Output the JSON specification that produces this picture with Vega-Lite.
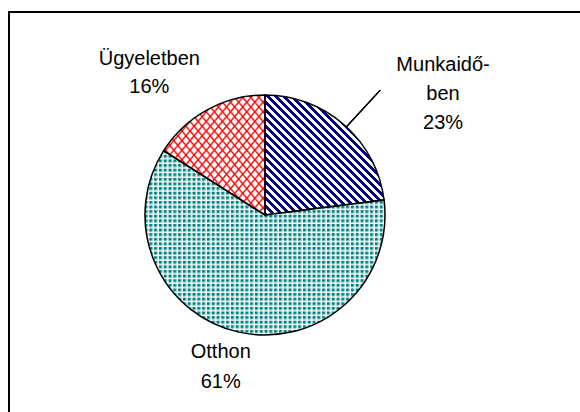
{
 "$schema": "https://vega.github.io/schema/vega-lite/v6.json",
 "usermeta": {"embedOptions": {"actions": false}},
 "width": 571,
 "height": 400,
 "autosize": {"type": "none"},
 "padding": {"left": 9, "top": 12, "right": 0, "bottom": 0},
 "background": "white",
 "config": {"view": {"stroke": null}},
 "data": {"values": [
  {"cat": "Munkaidőben", "value": 23, "label": "Munkaidő-\nben\n23%"},
  {"cat": "Otthon", "value": 61, "label": "Otthon\n61%"},
  {"cat": "Ügyeletben", "value": 16, "label": "Ügyeletben\n16%"}
 ]},
 "layer": [
  {
   "mark": {"type": "rect", "x": 0, "y": 0, "x2": 640, "y2": 460, "fill": "transparent", "stroke": "black", "strokeWidth": 2},
   "encoding": {}
  },
  {
   "mark": {"type": "arc", "x": 256, "y": 203, "radius": 120},
   "encoding": {
    "theta": {"field": "value", "type": "quantitative", "stack": true},
    "fill": {
     "condition": [
      {"test": "datum.cat === 'Munkaidőben'", "value": {"gradient": "linear", "x1": 0, "y1": 1, "x2": 1, "y2": 0, "stops": [
{"offset":0,"color":"navy"},{"offset":0.016667,"color":"navy"},{"offset":0.016667,"color":"#fff"},{"offset":0.033333,"color":"#fff"},
{"offset":0.033333,"color":"navy"},{"offset":0.05,"color":"navy"},{"offset":0.05,"color":"#fff"},{"offset":0.066667,"color":"#fff"},
{"offset":0.066667,"color":"navy"},{"offset":0.083333,"color":"navy"},{"offset":0.083333,"color":"#fff"},{"offset":0.1,"color":"#fff"},
{"offset":0.1,"color":"navy"},{"offset":0.116667,"color":"navy"},{"offset":0.116667,"color":"#fff"},{"offset":0.133333,"color":"#fff"},
{"offset":0.133333,"color":"navy"},{"offset":0.15,"color":"navy"},{"offset":0.15,"color":"#fff"},{"offset":0.166667,"color":"#fff"},
{"offset":0.166667,"color":"navy"},{"offset":0.183333,"color":"navy"},{"offset":0.183333,"color":"#fff"},{"offset":0.2,"color":"#fff"},
{"offset":0.2,"color":"navy"},{"offset":0.216667,"color":"navy"},{"offset":0.216667,"color":"#fff"},{"offset":0.233333,"color":"#fff"},
{"offset":0.233333,"color":"navy"},{"offset":0.25,"color":"navy"},{"offset":0.25,"color":"#fff"},{"offset":0.266667,"color":"#fff"},
{"offset":0.266667,"color":"navy"},{"offset":0.283333,"color":"navy"},{"offset":0.283333,"color":"#fff"},{"offset":0.3,"color":"#fff"},
{"offset":0.3,"color":"navy"},{"offset":0.316667,"color":"navy"},{"offset":0.316667,"color":"#fff"},{"offset":0.333333,"color":"#fff"},
{"offset":0.333333,"color":"navy"},{"offset":0.35,"color":"navy"},{"offset":0.35,"color":"#fff"},{"offset":0.366667,"color":"#fff"},
{"offset":0.366667,"color":"navy"},{"offset":0.383333,"color":"navy"},{"offset":0.383333,"color":"#fff"},{"offset":0.4,"color":"#fff"},
{"offset":0.4,"color":"navy"},{"offset":0.416667,"color":"navy"},{"offset":0.416667,"color":"#fff"},{"offset":0.433333,"color":"#fff"},
{"offset":0.433333,"color":"navy"},{"offset":0.45,"color":"navy"},{"offset":0.45,"color":"#fff"},{"offset":0.466667,"color":"#fff"},
{"offset":0.466667,"color":"navy"},{"offset":0.483333,"color":"navy"},{"offset":0.483333,"color":"#fff"},{"offset":0.5,"color":"#fff"},
{"offset":0.5,"color":"navy"},{"offset":0.516667,"color":"navy"},{"offset":0.516667,"color":"#fff"},{"offset":0.533333,"color":"#fff"},
{"offset":0.533333,"color":"navy"},{"offset":0.55,"color":"navy"},{"offset":0.55,"color":"#fff"},{"offset":0.566667,"color":"#fff"},
{"offset":0.566667,"color":"navy"},{"offset":0.583333,"color":"navy"},{"offset":0.583333,"color":"#fff"},{"offset":0.6,"color":"#fff"},
{"offset":0.6,"color":"navy"},{"offset":0.616667,"color":"navy"},{"offset":0.616667,"color":"#fff"},{"offset":0.633333,"color":"#fff"},
{"offset":0.633333,"color":"navy"},{"offset":0.65,"color":"navy"},{"offset":0.65,"color":"#fff"},{"offset":0.666667,"color":"#fff"},
{"offset":0.666667,"color":"navy"},{"offset":0.683333,"color":"navy"},{"offset":0.683333,"color":"#fff"},{"offset":0.7,"color":"#fff"},
{"offset":0.7,"color":"navy"},{"offset":0.716667,"color":"navy"},{"offset":0.716667,"color":"#fff"},{"offset":0.733333,"color":"#fff"},
{"offset":0.733333,"color":"navy"},{"offset":0.75,"color":"navy"},{"offset":0.75,"color":"#fff"},{"offset":0.766667,"color":"#fff"},
{"offset":0.766667,"color":"navy"},{"offset":0.783333,"color":"navy"},{"offset":0.783333,"color":"#fff"},{"offset":0.8,"color":"#fff"},
{"offset":0.8,"color":"navy"},{"offset":0.816667,"color":"navy"},{"offset":0.816667,"color":"#fff"},{"offset":0.833333,"color":"#fff"},
{"offset":0.833333,"color":"navy"},{"offset":0.85,"color":"navy"},{"offset":0.85,"color":"#fff"},{"offset":0.866667,"color":"#fff"},
{"offset":0.866667,"color":"navy"},{"offset":0.883333,"color":"navy"},{"offset":0.883333,"color":"#fff"},{"offset":0.9,"color":"#fff"},
{"offset":0.9,"color":"navy"},{"offset":0.916667,"color":"navy"},{"offset":0.916667,"color":"#fff"},{"offset":0.933333,"color":"#fff"},
{"offset":0.933333,"color":"navy"},{"offset":0.95,"color":"navy"},{"offset":0.95,"color":"#fff"},{"offset":0.966667,"color":"#fff"},
{"offset":0.966667,"color":"navy"},{"offset":0.983333,"color":"navy"},{"offset":0.983333,"color":"#fff"},{"offset":1,"color":"#fff"}
      ]}},
      {"test": "datum.cat === 'Otthon'", "value": {"gradient": "linear", "x1": 0, "y1": 0, "x2": 1, "y2": 0, "stops": [
{"offset":0,"color":"teal"},{"offset":0.006,"color":"teal"},{"offset":0.016,"color":"#fff"},
{"offset":0.02,"color":"teal"},{"offset":0.026,"color":"teal"},{"offset":0.036,"color":"#fff"},
{"offset":0.04,"color":"teal"},{"offset":0.046,"color":"teal"},{"offset":0.056,"color":"#fff"},
{"offset":0.06,"color":"teal"},{"offset":0.066,"color":"teal"},{"offset":0.076,"color":"#fff"},
{"offset":0.08,"color":"teal"},{"offset":0.086,"color":"teal"},{"offset":0.096,"color":"#fff"},
{"offset":0.1,"color":"teal"},{"offset":0.106,"color":"teal"},{"offset":0.116,"color":"#fff"},
{"offset":0.12,"color":"teal"},{"offset":0.126,"color":"teal"},{"offset":0.136,"color":"#fff"},
{"offset":0.14,"color":"teal"},{"offset":0.146,"color":"teal"},{"offset":0.156,"color":"#fff"},
{"offset":0.16,"color":"teal"},{"offset":0.166,"color":"teal"},{"offset":0.176,"color":"#fff"},
{"offset":0.18,"color":"teal"},{"offset":0.186,"color":"teal"},{"offset":0.196,"color":"#fff"},
{"offset":0.2,"color":"teal"},{"offset":0.206,"color":"teal"},{"offset":0.216,"color":"#fff"},
{"offset":0.22,"color":"teal"},{"offset":0.226,"color":"teal"},{"offset":0.236,"color":"#fff"},
{"offset":0.24,"color":"teal"},{"offset":0.246,"color":"teal"},{"offset":0.256,"color":"#fff"},
{"offset":0.26,"color":"teal"},{"offset":0.266,"color":"teal"},{"offset":0.276,"color":"#fff"},
{"offset":0.28,"color":"teal"},{"offset":0.286,"color":"teal"},{"offset":0.296,"color":"#fff"},
{"offset":0.3,"color":"teal"},{"offset":0.306,"color":"teal"},{"offset":0.316,"color":"#fff"},
{"offset":0.32,"color":"teal"},{"offset":0.326,"color":"teal"},{"offset":0.336,"color":"#fff"},
{"offset":0.34,"color":"teal"},{"offset":0.346,"color":"teal"},{"offset":0.356,"color":"#fff"},
{"offset":0.36,"color":"teal"},{"offset":0.366,"color":"teal"},{"offset":0.376,"color":"#fff"},
{"offset":0.38,"color":"teal"},{"offset":0.386,"color":"teal"},{"offset":0.396,"color":"#fff"},
{"offset":0.4,"color":"teal"},{"offset":0.406,"color":"teal"},{"offset":0.416,"color":"#fff"},
{"offset":0.42,"color":"teal"},{"offset":0.426,"color":"teal"},{"offset":0.436,"color":"#fff"},
{"offset":0.44,"color":"teal"},{"offset":0.446,"color":"teal"},{"offset":0.456,"color":"#fff"},
{"offset":0.46,"color":"teal"},{"offset":0.466,"color":"teal"},{"offset":0.476,"color":"#fff"},
{"offset":0.48,"color":"teal"},{"offset":0.486,"color":"teal"},{"offset":0.496,"color":"#fff"},
{"offset":0.5,"color":"teal"},{"offset":0.506,"color":"teal"},{"offset":0.516,"color":"#fff"},
{"offset":0.52,"color":"teal"},{"offset":0.526,"color":"teal"},{"offset":0.536,"color":"#fff"},
{"offset":0.54,"color":"teal"},{"offset":0.546,"color":"teal"},{"offset":0.556,"color":"#fff"},
{"offset":0.56,"color":"teal"},{"offset":0.566,"color":"teal"},{"offset":0.576,"color":"#fff"},
{"offset":0.58,"color":"teal"},{"offset":0.586,"color":"teal"},{"offset":0.596,"color":"#fff"},
{"offset":0.6,"color":"teal"},{"offset":0.606,"color":"teal"},{"offset":0.616,"color":"#fff"},
{"offset":0.62,"color":"teal"},{"offset":0.626,"color":"teal"},{"offset":0.636,"color":"#fff"},
{"offset":0.64,"color":"teal"},{"offset":0.646,"color":"teal"},{"offset":0.656,"color":"#fff"},
{"offset":0.66,"color":"teal"},{"offset":0.666,"color":"teal"},{"offset":0.676,"color":"#fff"},
{"offset":0.68,"color":"teal"},{"offset":0.686,"color":"teal"},{"offset":0.696,"color":"#fff"},
{"offset":0.7,"color":"teal"},{"offset":0.706,"color":"teal"},{"offset":0.716,"color":"#fff"},
{"offset":0.72,"color":"teal"},{"offset":0.726,"color":"teal"},{"offset":0.736,"color":"#fff"},
{"offset":0.74,"color":"teal"},{"offset":0.746,"color":"teal"},{"offset":0.756,"color":"#fff"},
{"offset":0.76,"color":"teal"},{"offset":0.766,"color":"teal"},{"offset":0.776,"color":"#fff"},
{"offset":0.78,"color":"teal"},{"offset":0.786,"color":"teal"},{"offset":0.796,"color":"#fff"},
{"offset":0.8,"color":"teal"},{"offset":0.806,"color":"teal"},{"offset":0.816,"color":"#fff"},
{"offset":0.82,"color":"teal"},{"offset":0.826,"color":"teal"},{"offset":0.836,"color":"#fff"},
{"offset":0.84,"color":"teal"},{"offset":0.846,"color":"teal"},{"offset":0.856,"color":"#fff"},
{"offset":0.86,"color":"teal"},{"offset":0.866,"color":"teal"},{"offset":0.876,"color":"#fff"},
{"offset":0.88,"color":"teal"},{"offset":0.886,"color":"teal"},{"offset":0.896,"color":"#fff"},
{"offset":0.9,"color":"teal"},{"offset":0.906,"color":"teal"},{"offset":0.916,"color":"#fff"},
{"offset":0.92,"color":"teal"},{"offset":0.926,"color":"teal"},{"offset":0.936,"color":"#fff"},
{"offset":0.94,"color":"teal"},{"offset":0.946,"color":"teal"},{"offset":0.956,"color":"#fff"},
{"offset":0.96,"color":"teal"},{"offset":0.966,"color":"teal"},{"offset":0.976,"color":"#fff"},
{"offset":0.98,"color":"teal"},{"offset":0.986,"color":"teal"},{"offset":0.996,"color":"#fff"},
{"offset":1,"color":"teal"}
      ]}}
     ],
     "value": {"gradient": "linear", "x1": 0, "y1": 1, "x2": 1, "y2": 0, "stops": [
{"offset":0,"color":"#f00"},{"offset":0.009,"color":"#fff"},{"offset":0.031,"color":"#fff"},
{"offset":0.04,"color":"#f00"},{"offset":0.049,"color":"#fff"},{"offset":0.071,"color":"#fff"},
{"offset":0.08,"color":"#f00"},{"offset":0.089,"color":"#fff"},{"offset":0.111,"color":"#fff"},
{"offset":0.12,"color":"#f00"},{"offset":0.129,"color":"#fff"},{"offset":0.151,"color":"#fff"},
{"offset":0.16,"color":"#f00"},{"offset":0.169,"color":"#fff"},{"offset":0.191,"color":"#fff"},
{"offset":0.2,"color":"#f00"},{"offset":0.209,"color":"#fff"},{"offset":0.231,"color":"#fff"},
{"offset":0.24,"color":"#f00"},{"offset":0.249,"color":"#fff"},{"offset":0.271,"color":"#fff"},
{"offset":0.28,"color":"#f00"},{"offset":0.289,"color":"#fff"},{"offset":0.311,"color":"#fff"},
{"offset":0.32,"color":"#f00"},{"offset":0.329,"color":"#fff"},{"offset":0.351,"color":"#fff"},
{"offset":0.36,"color":"#f00"},{"offset":0.369,"color":"#fff"},{"offset":0.391,"color":"#fff"},
{"offset":0.4,"color":"#f00"},{"offset":0.409,"color":"#fff"},{"offset":0.431,"color":"#fff"},
{"offset":0.44,"color":"#f00"},{"offset":0.449,"color":"#fff"},{"offset":0.471,"color":"#fff"},
{"offset":0.48,"color":"#f00"},{"offset":0.489,"color":"#fff"},{"offset":0.511,"color":"#fff"},
{"offset":0.52,"color":"#f00"},{"offset":0.529,"color":"#fff"},{"offset":0.551,"color":"#fff"},
{"offset":0.56,"color":"#f00"},{"offset":0.569,"color":"#fff"},{"offset":0.591,"color":"#fff"},
{"offset":0.6,"color":"#f00"},{"offset":0.609,"color":"#fff"},{"offset":0.631,"color":"#fff"},
{"offset":0.64,"color":"#f00"},{"offset":0.649,"color":"#fff"},{"offset":0.671,"color":"#fff"},
{"offset":0.68,"color":"#f00"},{"offset":0.689,"color":"#fff"},{"offset":0.711,"color":"#fff"},
{"offset":0.72,"color":"#f00"},{"offset":0.729,"color":"#fff"},{"offset":0.751,"color":"#fff"},
{"offset":0.76,"color":"#f00"},{"offset":0.769,"color":"#fff"},{"offset":0.791,"color":"#fff"},
{"offset":0.8,"color":"#f00"},{"offset":0.809,"color":"#fff"},{"offset":0.831,"color":"#fff"},
{"offset":0.84,"color":"#f00"},{"offset":0.849,"color":"#fff"},{"offset":0.871,"color":"#fff"},
{"offset":0.88,"color":"#f00"},{"offset":0.889,"color":"#fff"},{"offset":0.911,"color":"#fff"},
{"offset":0.92,"color":"#f00"},{"offset":0.929,"color":"#fff"},{"offset":0.951,"color":"#fff"},
{"offset":0.96,"color":"#f00"},{"offset":0.969,"color":"#fff"},{"offset":0.991,"color":"#fff"},
{"offset":1,"color":"#f00"}
     ]}
    }
   }
  },
  {
   "mark": {"type": "arc", "x": 256, "y": 203, "radius": 120, "stroke": "black", "strokeWidth": 1.5},
   "encoding": {
    "theta": {"field": "value", "type": "quantitative", "stack": true},
    "fill": {
     "condition": [
      {"test": "datum.cat === 'Munkaidőben'", "value": "transparent"},
      {"test": "datum.cat === 'Otthon'", "value": {"gradient": "linear", "x1": 0, "y1": 0, "x2": 0, "y2": 1, "stops": [
{"offset":0,"color":"#fff0"},{"offset":0.0075,"color":"#fff0"},{"offset":0.02,"color":"#fff"},
{"offset":0.025,"color":"#fff0"},{"offset":0.0325,"color":"#fff0"},{"offset":0.045,"color":"#fff"},
{"offset":0.05,"color":"#fff0"},{"offset":0.0575,"color":"#fff0"},{"offset":0.07,"color":"#fff"},
{"offset":0.075,"color":"#fff0"},{"offset":0.0825,"color":"#fff0"},{"offset":0.095,"color":"#fff"},
{"offset":0.1,"color":"#fff0"},{"offset":0.1075,"color":"#fff0"},{"offset":0.12,"color":"#fff"},
{"offset":0.125,"color":"#fff0"},{"offset":0.1325,"color":"#fff0"},{"offset":0.145,"color":"#fff"},
{"offset":0.15,"color":"#fff0"},{"offset":0.1575,"color":"#fff0"},{"offset":0.17,"color":"#fff"},
{"offset":0.175,"color":"#fff0"},{"offset":0.1825,"color":"#fff0"},{"offset":0.195,"color":"#fff"},
{"offset":0.2,"color":"#fff0"},{"offset":0.2075,"color":"#fff0"},{"offset":0.22,"color":"#fff"},
{"offset":0.225,"color":"#fff0"},{"offset":0.2325,"color":"#fff0"},{"offset":0.245,"color":"#fff"},
{"offset":0.25,"color":"#fff0"},{"offset":0.2575,"color":"#fff0"},{"offset":0.27,"color":"#fff"},
{"offset":0.275,"color":"#fff0"},{"offset":0.2825,"color":"#fff0"},{"offset":0.295,"color":"#fff"},
{"offset":0.3,"color":"#fff0"},{"offset":0.3075,"color":"#fff0"},{"offset":0.32,"color":"#fff"},
{"offset":0.325,"color":"#fff0"},{"offset":0.3325,"color":"#fff0"},{"offset":0.345,"color":"#fff"},
{"offset":0.35,"color":"#fff0"},{"offset":0.3575,"color":"#fff0"},{"offset":0.37,"color":"#fff"},
{"offset":0.375,"color":"#fff0"},{"offset":0.3825,"color":"#fff0"},{"offset":0.395,"color":"#fff"},
{"offset":0.4,"color":"#fff0"},{"offset":0.4075,"color":"#fff0"},{"offset":0.42,"color":"#fff"},
{"offset":0.425,"color":"#fff0"},{"offset":0.4325,"color":"#fff0"},{"offset":0.445,"color":"#fff"},
{"offset":0.45,"color":"#fff0"},{"offset":0.4575,"color":"#fff0"},{"offset":0.47,"color":"#fff"},
{"offset":0.475,"color":"#fff0"},{"offset":0.4825,"color":"#fff0"},{"offset":0.495,"color":"#fff"},
{"offset":0.5,"color":"#fff0"},{"offset":0.5075,"color":"#fff0"},{"offset":0.52,"color":"#fff"},
{"offset":0.525,"color":"#fff0"},{"offset":0.5325,"color":"#fff0"},{"offset":0.545,"color":"#fff"},
{"offset":0.55,"color":"#fff0"},{"offset":0.5575,"color":"#fff0"},{"offset":0.57,"color":"#fff"},
{"offset":0.575,"color":"#fff0"},{"offset":0.5825,"color":"#fff0"},{"offset":0.595,"color":"#fff"},
{"offset":0.6,"color":"#fff0"},{"offset":0.6075,"color":"#fff0"},{"offset":0.62,"color":"#fff"},
{"offset":0.625,"color":"#fff0"},{"offset":0.6325,"color":"#fff0"},{"offset":0.645,"color":"#fff"},
{"offset":0.65,"color":"#fff0"},{"offset":0.6575,"color":"#fff0"},{"offset":0.67,"color":"#fff"},
{"offset":0.675,"color":"#fff0"},{"offset":0.6825,"color":"#fff0"},{"offset":0.695,"color":"#fff"},
{"offset":0.7,"color":"#fff0"},{"offset":0.7075,"color":"#fff0"},{"offset":0.72,"color":"#fff"},
{"offset":0.725,"color":"#fff0"},{"offset":0.7325,"color":"#fff0"},{"offset":0.745,"color":"#fff"},
{"offset":0.75,"color":"#fff0"},{"offset":0.7575,"color":"#fff0"},{"offset":0.77,"color":"#fff"},
{"offset":0.775,"color":"#fff0"},{"offset":0.7825,"color":"#fff0"},{"offset":0.795,"color":"#fff"},
{"offset":0.8,"color":"#fff0"},{"offset":0.8075,"color":"#fff0"},{"offset":0.82,"color":"#fff"},
{"offset":0.825,"color":"#fff0"},{"offset":0.8325,"color":"#fff0"},{"offset":0.845,"color":"#fff"},
{"offset":0.85,"color":"#fff0"},{"offset":0.8575,"color":"#fff0"},{"offset":0.87,"color":"#fff"},
{"offset":0.875,"color":"#fff0"},{"offset":0.8825,"color":"#fff0"},{"offset":0.895,"color":"#fff"},
{"offset":0.9,"color":"#fff0"},{"offset":0.9075,"color":"#fff0"},{"offset":0.92,"color":"#fff"},
{"offset":0.925,"color":"#fff0"},{"offset":0.9325,"color":"#fff0"},{"offset":0.945,"color":"#fff"},
{"offset":0.95,"color":"#fff0"},{"offset":0.9575,"color":"#fff0"},{"offset":0.97,"color":"#fff"},
{"offset":0.975,"color":"#fff0"},{"offset":0.9825,"color":"#fff0"},{"offset":0.995,"color":"#fff"},
{"offset":1,"color":"#fff0"}
      ]}}
     ],
     "value": {"gradient": "linear", "x1": 0, "y1": 0, "x2": 1, "y2": 1, "stops": [
{"offset":0,"color":"#f00"},{"offset":0.009,"color":"#f000"},{"offset":0.031,"color":"#f000"},
{"offset":0.04,"color":"#f00"},{"offset":0.049,"color":"#f000"},{"offset":0.071,"color":"#f000"},
{"offset":0.08,"color":"#f00"},{"offset":0.089,"color":"#f000"},{"offset":0.111,"color":"#f000"},
{"offset":0.12,"color":"#f00"},{"offset":0.129,"color":"#f000"},{"offset":0.151,"color":"#f000"},
{"offset":0.16,"color":"#f00"},{"offset":0.169,"color":"#f000"},{"offset":0.191,"color":"#f000"},
{"offset":0.2,"color":"#f00"},{"offset":0.209,"color":"#f000"},{"offset":0.231,"color":"#f000"},
{"offset":0.24,"color":"#f00"},{"offset":0.249,"color":"#f000"},{"offset":0.271,"color":"#f000"},
{"offset":0.28,"color":"#f00"},{"offset":0.289,"color":"#f000"},{"offset":0.311,"color":"#f000"},
{"offset":0.32,"color":"#f00"},{"offset":0.329,"color":"#f000"},{"offset":0.351,"color":"#f000"},
{"offset":0.36,"color":"#f00"},{"offset":0.369,"color":"#f000"},{"offset":0.391,"color":"#f000"},
{"offset":0.4,"color":"#f00"},{"offset":0.409,"color":"#f000"},{"offset":0.431,"color":"#f000"},
{"offset":0.44,"color":"#f00"},{"offset":0.449,"color":"#f000"},{"offset":0.471,"color":"#f000"},
{"offset":0.48,"color":"#f00"},{"offset":0.489,"color":"#f000"},{"offset":0.511,"color":"#f000"},
{"offset":0.52,"color":"#f00"},{"offset":0.529,"color":"#f000"},{"offset":0.551,"color":"#f000"},
{"offset":0.56,"color":"#f00"},{"offset":0.569,"color":"#f000"},{"offset":0.591,"color":"#f000"},
{"offset":0.6,"color":"#f00"},{"offset":0.609,"color":"#f000"},{"offset":0.631,"color":"#f000"},
{"offset":0.64,"color":"#f00"},{"offset":0.649,"color":"#f000"},{"offset":0.671,"color":"#f000"},
{"offset":0.68,"color":"#f00"},{"offset":0.689,"color":"#f000"},{"offset":0.711,"color":"#f000"},
{"offset":0.72,"color":"#f00"},{"offset":0.729,"color":"#f000"},{"offset":0.751,"color":"#f000"},
{"offset":0.76,"color":"#f00"},{"offset":0.769,"color":"#f000"},{"offset":0.791,"color":"#f000"},
{"offset":0.8,"color":"#f00"},{"offset":0.809,"color":"#f000"},{"offset":0.831,"color":"#f000"},
{"offset":0.84,"color":"#f00"},{"offset":0.849,"color":"#f000"},{"offset":0.871,"color":"#f000"},
{"offset":0.88,"color":"#f00"},{"offset":0.889,"color":"#f000"},{"offset":0.911,"color":"#f000"},
{"offset":0.92,"color":"#f00"},{"offset":0.929,"color":"#f000"},{"offset":0.951,"color":"#f000"},
{"offset":0.96,"color":"#f00"},{"offset":0.969,"color":"#f000"},{"offset":0.991,"color":"#f000"},
{"offset":1,"color":"#f00"}
     ]}
    }
   }
  },
  {
   "mark": {"type": "arc", "x": 256, "y": 203, "theta": 0.745, "theta2": 0.745, "radius": 170, "radius2": 120, "filled": false, "stroke": "black", "strokeWidth": 1.2},
   "encoding": {}
  },
  {
   "mark": {"type": "text", "x": 256, "y": 203, "radius": 180, "dx": 59, "dy": -15, "font": "Liberation Sans", "fontSize": 20, "lineHeight": 29, "lineBreak": "\n", "align": "center", "baseline": "middle", "color": "black"},
   "encoding": {
    "theta": {"field": "value", "type": "quantitative", "stack": true},
    "text": {"field": "label", "type": "nominal", "condition": {"test": "datum.cat !== 'Munkaidőben'", "value": ""}}
   }
  },
  {
   "mark": {"type": "text", "x": 256, "y": 203, "radius": 180, "dx": -5, "dy": -39, "font": "Liberation Sans", "fontSize": 20, "lineHeight": 30, "lineBreak": "\n", "align": "center", "baseline": "middle", "color": "black"},
   "encoding": {
    "theta": {"field": "value", "type": "quantitative", "stack": true},
    "text": {"field": "label", "type": "nominal", "condition": {"test": "datum.cat !== 'Otthon'", "value": ""}}
   }
  },
  {
   "mark": {"type": "text", "x": 256, "y": 203, "radius": 180, "dx": -29, "dy": 2, "font": "Liberation Sans", "fontSize": 20, "lineHeight": 28, "lineBreak": "\n", "align": "center", "baseline": "middle", "color": "black"},
   "encoding": {
    "theta": {"field": "value", "type": "quantitative", "stack": true},
    "text": {"field": "label", "type": "nominal", "condition": {"test": "datum.cat !== 'Ügyeletben'", "value": ""}}
   }
  }
 ]
}
